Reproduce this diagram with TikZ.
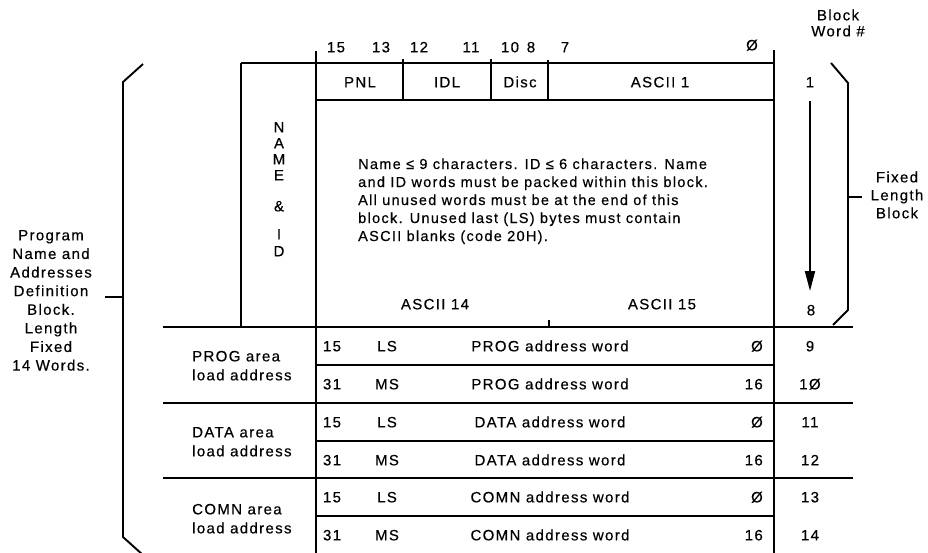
\documentclass[tikz,border=0pt]{standalone}
\usepackage{fontspec}
\setmainfont{Liberation Sans}[LetterSpace=9,FakeBold=0.4]
\usetikzlibrary{arrows.meta}
\begin{document}
\begin{tikzpicture}[x=1pt,y=-1pt,
  ln/.style={line width=1.9pt},
  tx/.style={inner sep=0pt, font=\fontsize{15}{18}\selectfont, text height=10.7pt, text depth=0pt},
  dsc/.style={inner sep=0pt, anchor=base west, font=\fontsize{14.5}{18}\selectfont}]
\useasboundingbox (0,0) rectangle (928,552);
\clip (0,0) rectangle (928,552);

% ---------- key points ----------
\coordinate (nameTL) at (241,63);
\coordinate (nameBL) at (241,327);
\coordinate (mainT) at (316,51);
\coordinate (mainB) at (316,560);
\coordinate (rightT) at (774,50);
\coordinate (rightB) at (774,560);

% ---------- table lines ----------
\draw[ln] (nameTL) -- (774,63);
\draw[ln] (nameTL) -- (nameBL);
\draw[ln] (mainT) -- (mainB);
\draw[ln] (rightT) -- (rightB);
\draw[ln] (316,100) -- (774,100);
\draw[ln] (403,59) -- (403,100);
\draw[ln] (491,59) -- (491,100);
\draw[ln] (548,60) -- (548,100);
\draw[ln] (549,320) -- (549,327);
\foreach \yy in {327,403,478} \draw[ln] (163,\yy) -- (853,\yy);
\foreach \yy in {365,441,516} \draw[ln] (316,\yy) -- (774,\yy);

% ---------- brackets ----------
\draw[ln] (143,64) -- (123,82) -- (123,537) -- (143,555);
\draw[ln] (105,297) -- (123,297);
\draw[ln] (831,63) -- (848,83) -- (848,310) -- (833,325);
\draw[ln] (848,197) -- (862,197);

% ---------- bit numbers ----------
\node[tx] (b15) at (336,47) {15};
\node[tx] (b13) at (381,47) {13};
\node[tx] (b12) at (419,47) {12};
\node[tx] (b11) at (471,47) {11};
\node[tx] (b10) at (510,47) {10};
\node[tx] (b8)  at (531,47) {8};
\node[tx] (b7)  at (565,47) {7};
\node[tx] (b0)  at (752,45) {Ø};

% ---------- fields ----------
\node[tx] (pnl)  at (360,82) {PNL};
\node[tx] (idl)  at (447,82) {IDL};
\node[tx] (disc) at (520,82) {Disc};
\node[tx] (as1)  at (660,82) {ASCII 1};
\node[tx] (as14) at (435,304) {ASCII 14};
\node[tx] (as15) at (662,304) {ASCII 15};

% ---------- NAME & ID ----------
\foreach \ch/\yy [count=\i] in {N/127,A/143,M/159,E/175,\&/206,I/234,D/251}
  \node[tx] (nid\i) at (279,\yy) {\ch};

% ---------- description ----------
\foreach \t/\yy [count=\i] in {{Name ≤ 9 characters. ID ≤ 6 characters. Name}/169,
  {and ID words must be packed within this block.}/187,
  {All unused words must be at the end of this}/205,
  {block. Unused last (LS) bytes must contain}/223,
  {ASCII blanks (code 20H).}/241}
  \node[dsc] (desc\i) at (358,\yy) {\t};

% ---------- left label ----------
\foreach \t [count=\i] in {Program,Name and,Addresses,Definition,Block.,Length,Fixed,14 Words.}
  \node[tx] (lft\i) at (51,{235+18.6*(\i-1)}) {\t};

% ---------- right labels ----------
\node[tx] (bw1) at (838,15) {Block};
\node[tx] (bw2) at (838,31) {Word \#};
\node[tx] (fl1) at (897,177) {Fixed};
\node[tx] (fl2) at (897,195) {Length};
\node[tx] (fl3) at (897,213) {Block};

% ---------- block word numbers and arrow ----------
\node[tx] (w1) at (810,82) {1};
\node[tx] (w8) at (811,310) {8};
\coordinate (arrS) at (810,101);
\coordinate (arrE) at (810,291);
\draw[line width=1.9pt,-{Triangle[length=20pt,width=10pt]}] (arrS) -- (arrE);

% ---------- address rows ----------
\foreach \yy/\hi/\area/\lo/\endb/\num [count=\i] in
  {346/15/PROG/LS/Ø/9, 384/31/PROG/MS/16/1Ø,
   422/15/DATA/LS/Ø/11, 460/31/DATA/MS/16/12,
   497/15/COMN/LS/Ø/13, 535/31/COMN/MS/16/14}
{
  \node[tx] (hi\i) at (332,\yy) {\hi};
  \node[tx] (ls\i) at (387,\yy) {\lo};
  \node[tx] (aw\i) at (550,\yy) {\area\ address word};
  \node[tx,anchor=east] (eb\i) at (763,\yy) {\endb};
  \node[tx] (num\i) at (810,\yy) {\num};
}

% ---------- area labels ----------
\foreach \area/\yy [count=\i] in {PROG/356,DATA/432,COMN/509}
{
  \node[tx,anchor=west] (ar\i) at (192,\yy) {\area\ area};
  \node[tx,anchor=west] (ld\i) at (192,\yy+19) {load address};
}
\end{tikzpicture}
\end{document}
